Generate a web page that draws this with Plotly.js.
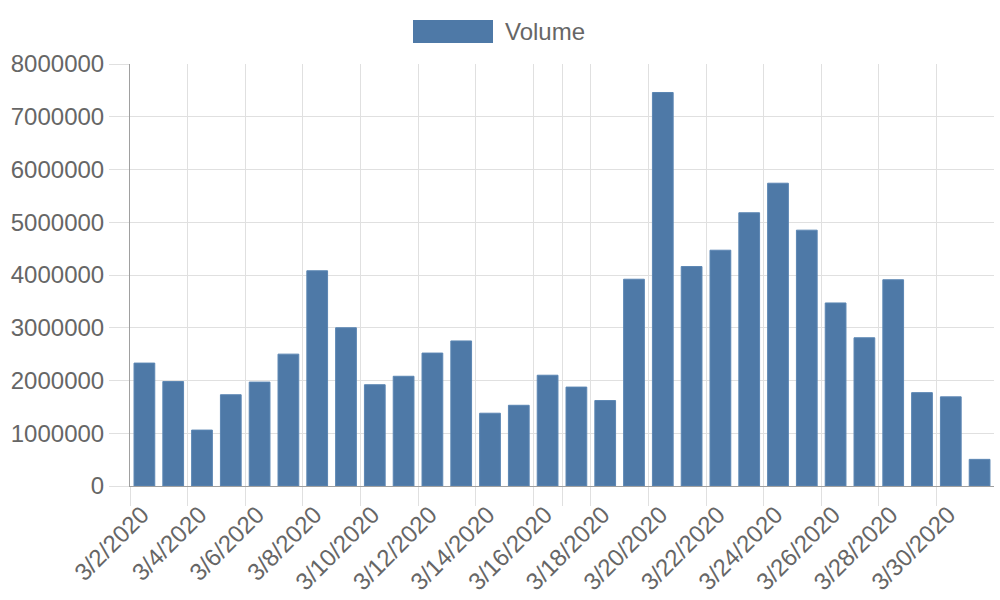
<!DOCTYPE html>
<html>
<head>
<meta charset="utf-8">
<script src="https://cdn.plot.ly/plotly-3.0.1.min.js"></script>
<style>html,body{margin:0;padding:0;background:#fff;}#chart{width:1000px;height:600px;}</style>
</head>
<body>
<div id="chart"></div>
<script>
const seriesName = 'Volume';
const dates = ['2020-03-02','2020-03-03','2020-03-04','2020-03-05','2020-03-06','2020-03-07','2020-03-08','2020-03-09','2020-03-10','2020-03-11',
  '2020-03-12','2020-03-13','2020-03-14','2020-03-15','2020-03-16','2020-03-17','2020-03-18','2020-03-19','2020-03-20','2020-03-21',
  '2020-03-22','2020-03-23','2020-03-24','2020-03-25','2020-03-26','2020-03-27','2020-03-28','2020-03-29','2020-03-30','2020-03-31'];
const volume = [2330000,1980000,1060000,1730000,1970000,2500000,4080000,3000000,1920000,2080000,
  2520000,2750000,1380000,1530000,2100000,1875000,1620000,3920000,7460000,4160000,
  4470000,5180000,5740000,4850000,3470000,2810000,3910000,1770000,1690000,505000];
const tickDates = ['2020-03-02','2020-03-04','2020-03-06','2020-03-08','2020-03-10','2020-03-12','2020-03-14','2020-03-16','2020-03-17','2020-03-18',
  '2020-03-20','2020-03-22','2020-03-24','2020-03-26','2020-03-28','2020-03-30'];
const tickLabels = ['3/2/2020','3/4/2020','3/6/2020','3/8/2020','3/10/2020','3/12/2020','3/14/2020','3/16/2020','','3/18/2020',
  '3/20/2020','3/22/2020','3/24/2020','3/26/2020','3/28/2020','3/30/2020'];
const yTicks = [0,1000000,2000000,3000000,4000000,5000000,6000000,7000000,8000000];

const DAY = 86400000;
const barColor = '#4e79a7';
const fontFam = 'Liberation Sans, Arial, Helvetica, sans-serif';
const gridCol = '#e0e0e0';
const axisCol = '#a0a0a0';

const trace = {
  type: 'bar',
  name: seriesName,
  x: dates,
  y: volume,
  xperiod: DAY,
  xperiodalignment: 'middle',
  width: DAY * 0.72,
  marker: {color: barColor, line: {color: '#5b86b3', width: 1}},
  showlegend: false,
  hoverinfo: 'x+y'
};

const layout = {
  width: 1000, height: 600,
  margin: {l: 130, r: 6, t: 64, b: 114},
  paper_bgcolor: '#fff', plot_bgcolor: '#fff',
  font: {family: fontFam, size: 24, color: '#666'},
  showlegend: false,
  xaxis: {
    type: 'date',
    range: ['2020-03-02', '2020-04-01'],
    tickmode: 'array',
    tickvals: tickDates,
    ticktext: tickLabels,
    tickangle: -45,
    ticks: 'outside', ticklen: 19, tickcolor: gridCol, tickwidth: 1,
    ticklabelshift: 12,
    ticklabelstandoff: -15,
    showgrid: true, gridcolor: gridCol, gridwidth: 1,
    showline: true, linecolor: axisCol, linewidth: 1,
    tickfont: {family: fontFam, size: 24, color: '#666'},
    fixedrange: true
  },
  yaxis: {
    range: [0, 8000000],
    tickmode: 'array',
    tickvals: yTicks,
    tickformat: 'd',
    ticks: 'outside', ticklen: 20, tickcolor: gridCol, tickwidth: 1,
    showgrid: true, gridcolor: gridCol, gridwidth: 1,
    zeroline: false,
    showline: true, linecolor: axisCol, linewidth: 1,
    tickfont: {family: fontFam, size: 24, color: '#666'},
    fixedrange: true
  },
  shapes: [{
    type: 'rect', xref: 'paper', yref: 'paper',
    x0: (413 - 130) / 864, x1: (493 - 130) / 864,
    y0: (486 - 43) / 422, y1: (486 - 20) / 422,
    fillcolor: barColor, line: {width: 0}
  }],
  annotations: [{
    text: seriesName, xref: 'paper', yref: 'paper',
    x: (503 - 130) / 864, y: (486 - 31.5) / 422,
    xanchor: 'left', yanchor: 'middle', showarrow: false,
    font: {family: fontFam, size: 24, color: '#666'}
  }]
};

Plotly.newPlot('chart', [trace], layout, {displayModeBar: false, staticPlot: true});
</script>
</body>
</html>
